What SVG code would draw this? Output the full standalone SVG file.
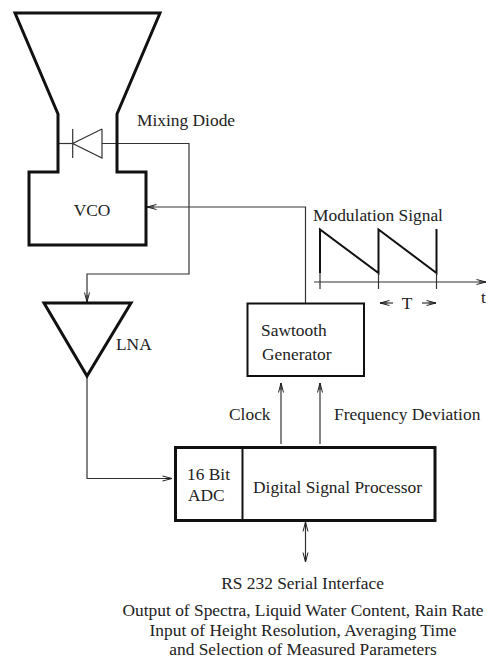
<svg xmlns="http://www.w3.org/2000/svg" width="486" height="660" viewBox="0 0 486 660">
<defs>
<marker id="a" markerUnits="userSpaceOnUse" markerWidth="12" markerHeight="8" refX="11" refY="4" orient="auto-start-reverse"><path d="M1.500 1.500L11 4L1.500 6.500M4 4H11" fill="none" stroke="#222" stroke-width="1"/></marker>
</defs>
<style>
rect{fill:#fff}
.h{fill:none;stroke:#111;stroke-width:3;stroke-linejoin:miter}
.m{fill:none;stroke:#111;stroke-width:2}
.t{fill:none;stroke:#333;stroke-width:1.2}
.c{fill:none;stroke:#333;stroke-width:1.2}
.ar{marker-end:url(#a)}
text{font-family:"Liberation Serif","Times New Roman",serif;font-size:17.400px;fill:#222}
.mid{text-anchor:middle}
</style>
<rect x="0" y="0" width="486" height="660"/>
<g id="connectors">
<path class="c" d="M58 143.500H72.500"/>
<path class="c ar" d="M102 143.500H189V274H87V302"/>
<path class="c ar" d="M87 376V478.500H172"/>
<path class="c ar" d="M305.500 303V207H147"/>
<path class="c ar" d="M281 444V383"/>
<path class="c ar" d="M320 444V383"/>
<path class="c ar" d="M305.500 562V522" style="marker-start:url(#a)"/>
</g>
<g id="horn-vco"><path class="h" d="M15 13H160L117 114V172H146V245H29V172H58V114Z"/><text class="mid" x="92" y="216">VCO</text></g>
<g id="diode"><path class="t" d="M72.700 129V158M102 129V158L72.700 143.500L102 129"/><text x="137" y="126">Mixing Diode</text></g>
<g id="lna"><path class="h" d="M44 303H131L87 376Z"/><text x="116" y="350">LNA</text></g>
<g id="sawtooth"><rect class="m" x="247.500" y="303.500" width="116.500" height="72.500"/><text x="261" y="336">Sawtooth</text><text x="262" y="360">Generator</text></g>
<g id="dsp"><rect class="h" x="175.500" y="447.500" width="259.500" height="73"/><path class="m" d="M242.500 447.500V520.500"/><text x="187" y="480">16 Bit</text><text x="188" y="501">ADC</text><text x="253" y="493">Digital Signal Processor</text></g>
<g id="signal">
<path class="m" d="M320 273V229.500L378.500 273V229.500L436.500 273V229"/>
<path class="t" d="M320 273V289M378.500 273V289M436.500 273V289"/>
<path class="c ar" d="M314 282H486"/>
<path class="c ar" d="M393 303H380"/>
<path class="c ar" d="M422 303H436"/>
<text x="313" y="221">Modulation Signal</text>
<text class="mid" x="407" y="309">T</text>
<text x="481" y="303">t</text>
</g>
<g id="labels">
<text x="229" y="420">Clock</text>
<text x="334" y="420">Frequency Deviation</text>
<text class="mid" x="302.500" y="589">RS 232 Serial Interface</text>
<text class="mid" x="303" y="616">Output of Spectra, Liquid Water Content, Rain Rate</text>
<text class="mid" x="303" y="636">Input of Height Resolution, Averaging Time</text>
<text class="mid" x="303" y="655">and Selection of Measured Parameters</text>
</g>
</svg>
